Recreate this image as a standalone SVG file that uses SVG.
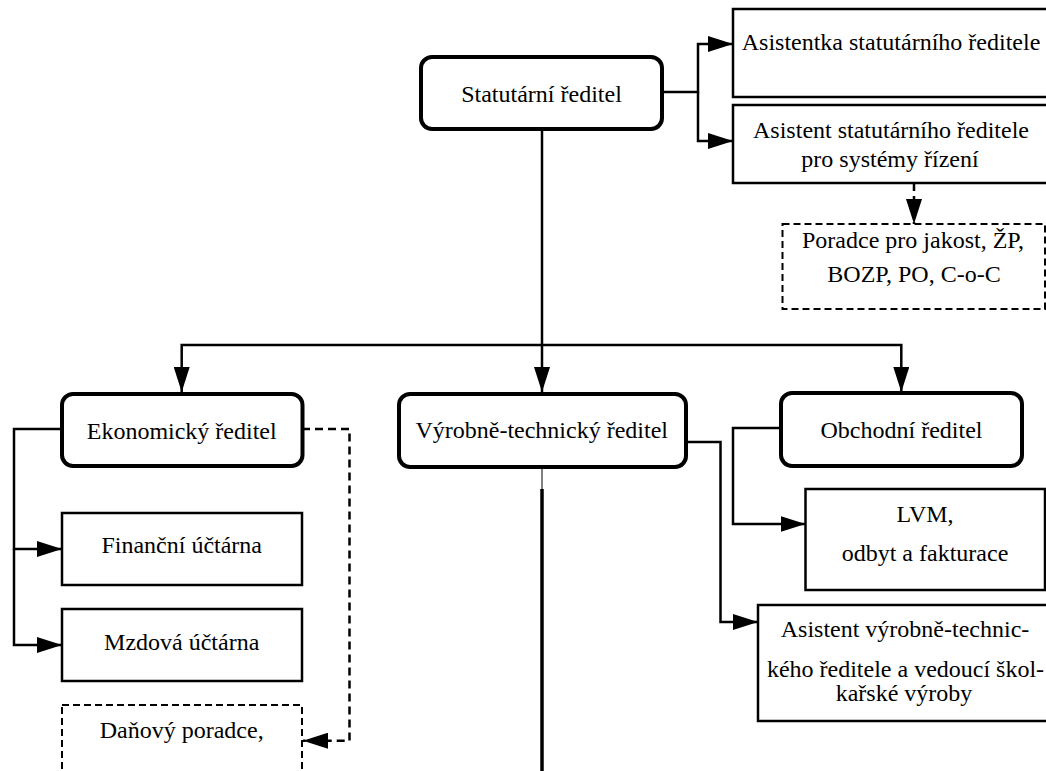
<svg xmlns="http://www.w3.org/2000/svg" width="1046" height="771" viewBox="0 0 1046 771">
<defs>
<style>
.rb{fill:#fff;stroke:#000;stroke-width:4}
.b{fill:#fff;stroke:#000;stroke-width:2.5}
.db{fill:#fff;stroke:#000;stroke-width:2;stroke-dasharray:7 4}
.t{font-size:24px;fill:#000;text-anchor:middle}
.c{fill:none;stroke:#000;stroke-width:2.5}
.dc{fill:none;stroke:#000;stroke-width:2.5;stroke-dasharray:8 5}
</style>
<marker id="ah" markerUnits="userSpaceOnUse" markerWidth="26" markerHeight="16" refX="25" refY="8" orient="auto">
<path d="M0,0 L25,8 L0,16 Z" fill="#000"/>
</marker>
</defs>
<rect width="1046" height="771" fill="#fff"/>

<g id="connectors">
<path class="c" d="M542,129 V392" marker-end="url(#ah)"/>
<path class="c" d="M542,345 H181.7 V392" marker-end="url(#ah)"/>
<path class="c" d="M542,345 H901.3 V392" marker-end="url(#ah)"/>
<path class="c" d="M663,92 H698 V44 H733" marker-end="url(#ah)"/>
<path class="c" d="M698,92 V141 H733" marker-end="url(#ah)"/>
<path class="dc" d="M914,183 V224" marker-end="url(#ah)"/>
<path class="c" d="M62,429 H14 V549 H62" marker-end="url(#ah)"/>
<path class="c" d="M14,549 V645 H62" marker-end="url(#ah)"/>
<path class="dc" d="M302,429 H349.5 V740.7 H303" marker-end="url(#ah)"/>
<path fill="none" stroke="#555" stroke-width="1.5" d="M542,467 V490"/>
<path fill="none" stroke="#000" stroke-width="3.5" d="M542,489 V771"/>
<path class="c" d="M686,442 H720.5 V622 H758" marker-end="url(#ah)"/>
<path class="c" d="M781,428 H733 V524 H805.5" marker-end="url(#ah)"/>
</g>

<g font-family="'Liberation Serif', 'Times New Roman', 'DejaVu Serif', serif">
<g id="statutarni">
<rect class="rb" x="421" y="57" width="241" height="72" rx="11"/>
<text class="t" x="541.5" y="102">Statutární ředitel</text>
</g>
<g id="asistentka">
<rect class="b" x="733" y="9" width="330" height="88"/>
<text class="t" x="891" y="50">Asistentka statutárního ředitele</text>
</g>
<g id="asistent">
<rect class="b" x="733" y="105" width="330" height="78"/>
<text class="t" x="891" y="138">Asistent statutárního ředitele</text>
<text class="t" x="890" y="167">pro systémy řízení</text>
</g>
<g id="poradce">
<rect class="db" x="782.5" y="224" width="262.5" height="85"/>
<text class="t" x="913" y="248">Poradce pro jakost, ŽP,</text>
<text class="t" x="914" y="282">BOZP, PO, C-o-C</text>
</g>
<g id="ekonomicky">
<rect class="rb" x="62" y="394" width="240.5" height="72" rx="11"/>
<text class="t" x="181.7" y="439">Ekonomický ředitel</text>
</g>
<g id="financni">
<rect class="b" x="62" y="513" width="240" height="72"/>
<text class="t" x="181.7" y="553">Finanční účtárna</text>
</g>
<g id="mzdova">
<rect class="b" x="62" y="609" width="240" height="72"/>
<text class="t" x="181.7" y="650">Mzdová účtárna</text>
</g>
<g id="danovy">
<rect class="db" x="62" y="705" width="240" height="100"/>
<text class="t" x="181.7" y="738">Daňový poradce,</text>
</g>
<g id="vyrobne">
<rect class="rb" x="399" y="394" width="287" height="73" rx="11"/>
<text class="t" x="541.7" y="438">Výrobně-technický ředitel</text>
</g>
<g id="obchodni">
<rect class="rb" x="781" y="393" width="241" height="73" rx="11"/>
<text class="t" x="901.5" y="438">Obchodní ředitel</text>
</g>
<g id="lvm">
<rect class="b" x="805.5" y="489" width="239.5" height="101"/>
<text class="t" x="925" y="522">LVM,</text>
<text class="t" x="925" y="561">odbyt a fakturace</text>
</g>
<g id="asistent-vyrobne">
<rect class="b" x="758" y="605" width="300" height="116"/>
<text class="t" x="905" y="637">Asistent výrobně-technic-</text>
<text class="t" x="905.5" y="677">kého ředitele a vedoucí škol-</text>
<text class="t" x="904" y="701">kařské výroby</text>
</g>
</g>
</svg>
